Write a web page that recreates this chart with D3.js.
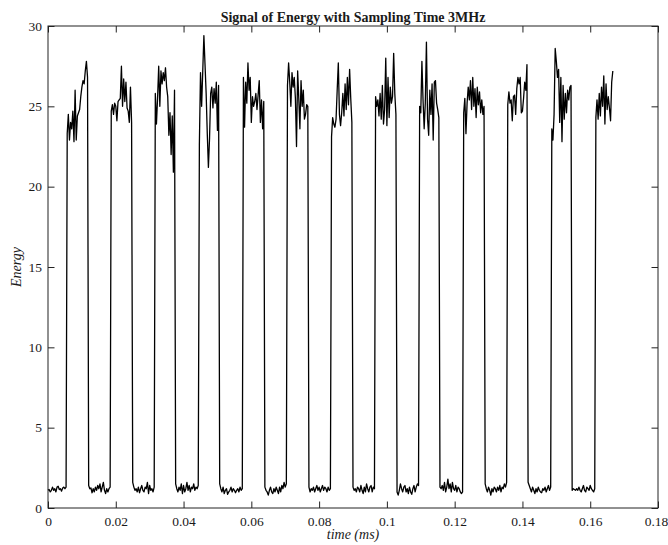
<!DOCTYPE html>
<html>
<head>
<meta charset="utf-8">
<script src="https://cdn.jsdelivr.net/npm/d3@7"></script>
<style>
  body { margin: 0; background: #fff; }
  text { font-family: "Liberation Serif", "Times New Roman", serif; fill: #1a1a1a; }
</style>
</head>
<body>
<svg></svg>
<script>
const width = 668;
const height = 545;
const margin = { top: 26, right: 10, bottom: 37, left: 48 };

const sampleRateMHz = 3; // samples per microsecond -> 3000 per ms
const xTicks = [0, 0.02, 0.04, 0.06, 0.08, 0.1, 0.12, 0.14, 0.16, 0.18];
const yTicks = [0, 5, 10, 15, 20, 25, 30];

// low level stretches between pulses
const lowLevels = [
    [1.1, 1.15, 1.0, 1.1, 1.3, 1.1, 1.2, 1.0, 1.3, 1.35, 1.15, 1.2, 1.05, 1.25, 1.3, 1.2, 1.3],
    [1.4, 1.2, 1.25, 0.95, 1.2, 1.0, 1.3, 1.1, 1.4, 1.2, 1.5, 1.0, 1.3, 1.6, 1.1, 0.9, 1.2, 1.0, 1.2, 1.3],
    [1.6, 1.3, 1.1, 1.2, 1.0, 1.3, 0.95, 1.2, 1.4, 1.1, 1.0, 1.3, 1.2, 1.6, 0.9, 1.4, 1.1, 1.2, 1.0, 1.3],
    [1.5, 1.2, 1.0, 1.3, 1.1, 1.5, 0.9, 1.4, 1.0, 1.2, 1.6, 1.1, 1.4, 1.0, 1.3, 1.2, 1.5, 1.1, 1.3, 1.2, 1.4],
    [1.5, 1.2, 1.0, 1.3, 0.9, 1.1, 1.2, 0.85, 1.0, 1.1, 1.3, 1.0, 1.2, 1.1, 0.95, 1.1, 1.2, 1.0, 1.3, 1.1, 1.2],
    [1.3, 1.1, 1.0, 0.8, 1.1, 1.3, 1.0, 0.9, 1.2, 1.0, 1.3, 1.1, 0.9, 1.3, 1.0, 1.4, 1.2, 1.6, 1.3, 1.5],
    [1.3, 1.0, 1.2, 1.1, 1.3, 1.0, 1.2, 1.4, 1.1, 1.3, 1.0, 1.2, 1.4, 1.1, 1.3, 1.2, 1.0, 1.3, 1.1, 1.2],
    [1.3, 1.1, 1.2, 1.0, 1.3, 1.2, 1.0, 1.4, 1.1, 0.9, 1.3, 1.0, 1.5, 1.2, 1.0, 1.3, 1.4, 1.0, 1.3, 1.2],
    [1.0, 0.8, 1.1, 1.5, 1.2, 1.0, 1.3, 1.4, 1.0, 1.2, 0.9, 1.3, 1.0, 0.85, 1.2, 1.4, 1.0, 1.3, 1.5, 1.4],
    [1.3, 1.2, 1.4, 1.1, 1.6, 1.0, 1.3, 1.8, 1.2, 1.5, 1.0, 1.6, 1.2, 1.1, 1.4, 1.0, 1.3, 1.2, 1.0, 0.9, 1.0],
    [1.5, 1.2, 1.0, 1.3, 1.1, 0.8, 1.2, 1.0, 1.3, 1.2, 1.0, 1.3, 1.1, 1.4, 1.0, 1.3, 1.2, 1.5, 1.3, 1.6],
    [1.6, 1.4, 1.2, 1.0, 1.3, 1.1, 0.9, 1.2, 1.0, 1.3, 1.1, 1.0, 0.95, 1.2, 1.1, 1.3, 1.0, 1.2, 1.4, 1.1, 1.3],
    [1.1, 1.2, 1.15, 1.1, 1.2, 1.1, 1.3, 1.1, 1.0, 1.2, 1.4, 1.1, 1.0, 1.3, 1.2, 1.1, 1.4, 1.2, 1.1, 1.0, 1.2]
];

// high level of each pulse
const pulseLevels = [
    [23.3, 24.5, 22.9, 24.0, 23.6, 24.7, 22.8, 26.0, 22.9, 24.4, 24.6, 24.8, 25.6, 26.2, 26.6, 26.4, 27.2, 27.8, 26.8],
    [24.7, 25.1, 24.5, 25.2, 25.0, 24.1, 25.3, 25.4, 25.5, 27.5, 25.0, 26.7, 25.3, 26.5, 24.9, 24.7, 24.0, 26.2, 24.0],
    [25.8, 23.9, 25.5, 27.5, 25.0, 27.2, 26.4, 27.1, 26.6, 27.4, 26.2, 25.6, 23.2, 24.6, 22.0, 24.4, 20.9, 26.0],
    [22.6, 27.1, 25.0, 27.2, 29.4, 27.6, 25.8, 23.3, 21.2, 23.0, 25.8, 26.2, 24.9, 26.1, 25.2, 26.5, 23.5, 26.3],
    [26.8, 23.7, 26.5, 25.2, 27.7, 26.0, 26.8, 24.0, 25.6, 25.0, 25.3, 25.8, 24.8, 25.7, 26.6, 24.0, 25.4, 23.6, 25.3],
    [26.3, 27.7, 26.5, 25.0, 27.1, 26.2, 26.8, 25.5, 22.5, 27.2, 25.5, 23.6, 26.6, 25.0, 26.0, 24.2, 24.5, 25.1, 25.0],
    [23.1, 24.3, 23.9, 23.7, 24.2, 26.0, 27.7, 24.5, 23.8, 24.6, 25.8, 24.4, 26.4, 24.8, 26.8, 25.1, 27.3, 25.5, 24.0],
    [25.6, 25.0, 25.4, 24.4, 25.8, 24.2, 26.3, 23.9, 24.8, 28.0, 23.8, 26.8, 24.3, 26.2, 25.2, 25.6, 28.3, 25.8, 24.5],
    [25.0, 24.6, 27.8, 25.4, 23.6, 25.2, 29.0, 24.2, 23.2, 26.0, 24.5, 26.4, 22.9, 26.5, 26.6, 25.2, 24.8, 24.3],
    [24.6, 25.5, 23.3, 25.2, 26.2, 25.4, 26.6, 24.8, 26.8, 25.0, 26.1, 24.3, 26.2, 25.1, 25.9, 24.6, 25.4, 24.5, 25.0],
    [25.1, 25.9, 25.2, 25.4, 24.1, 25.6, 25.7, 24.5, 26.1, 26.8, 26.4, 26.8, 24.6, 24.7, 25.5, 26.5, 26.0, 27.6],
    [23.6, 22.9, 24.5, 28.6, 27.8, 26.8, 27.3, 24.0, 26.8, 22.8, 26.3, 24.2, 25.8, 24.6, 26.0, 25.4, 26.2, 26.3],
    [24.3, 25.4, 24.2, 25.8, 24.4, 26.2, 25.0, 26.9, 23.9, 26.4, 24.8, 25.6, 24.9, 24.1, 26.5, 27.2]
];

// stitch gaps and pulses together: gap, pulse, gap, pulse ...
const energy = [];
lowLevels.forEach((low, i) => {
    energy.push(...low, ...pulseLevels[i]);
});
const signal = energy.map((v, i) => ({ t: i / (sampleRateMHz * 1000), e: v }));

const svg = d3.select("svg")
    .attr("width", width)
    .attr("height", height);

const x = d3.scaleLinear()
    .domain([0, 0.18])
    .range([margin.left, width - margin.right]);

const y = d3.scaleLinear()
    .domain([0, 30])
    .range([height - margin.bottom, margin.top]);

const fmt = d3.format("~g");

svg.append("g")
    .attr("class", "x-axis")
    .attr("transform", `translate(0, ${height - margin.bottom})`)
    .call(d3.axisBottom(x).tickValues(xTicks).tickFormat(fmt).tickSizeInner(-6.5).tickSizeOuter(0).tickPadding(8))
    .call(g => g.select(".domain").remove());

svg.append("g")
    .attr("transform", `translate(0, ${margin.top})`)
    .call(d3.axisTop(x).tickValues(xTicks).tickFormat("").tickSizeInner(-6.5).tickSizeOuter(0))
    .call(g => g.select(".domain").remove());

svg.append("g")
    .attr("transform", `translate(${margin.left}, 0)`)
    .call(d3.axisLeft(y).tickValues(yTicks).tickFormat(fmt).tickSizeInner(-6.5).tickSizeOuter(0).tickPadding(6))
    .call(g => g.select(".domain").remove());

svg.append("g")
    .attr("transform", `translate(${width - margin.right}, 0)`)
    .call(d3.axisRight(y).tickValues(yTicks).tickFormat("").tickSizeInner(-6.5).tickSizeOuter(0))
    .call(g => g.select(".domain").remove());

svg.selectAll(".tick line").attr("stroke", "#222");
svg.selectAll(".tick text")
    .style("font-family", '"Liberation Serif", serif')
    .style("font-size", "13.5px")
    .attr("fill", "#1a1a1a");

// last x label sits right at the window edge
svg.select(".x-axis").selectAll(".tick text")
    .filter(d => d === 0.18)
    .attr("dx", "-2");

// axes box
svg.append("rect")
    .attr("x", x(0))
    .attr("y", y(30))
    .attr("width", x(0.18) - x(0))
    .attr("height", y(0) - y(30))
    .attr("fill", "none")
    .attr("stroke", "#222")
    .attr("stroke-width", 1);

const line = d3.line()
    .x(d => x(d.t))
    .y(d => y(d.e));

svg.append("path")
    .datum(signal)
    .attr("d", line)
    .attr("fill", "none")
    .attr("stroke", "#000")
    .attr("stroke-width", 1.3)
    .attr("stroke-linejoin", "round");

svg.append("text")
    .attr("x", (x(0) + x(0.18)) / 2)
    .attr("y", 22)
    .attr("text-anchor", "middle")
    .style("font-size", "14px")
    .style("font-weight", "bold")
    .text("Signal of Energy with Sampling Time 3MHz");

svg.append("text")
    .attr("x", (x(0) + x(0.18)) / 2)
    .attr("y", 539)
    .attr("text-anchor", "middle")
    .style("font-size", "14px")
    .style("font-style", "italic")
    .text("time (ms)");

svg.append("text")
    .attr("transform", `translate(21, ${(y(0) + y(30)) / 2}) rotate(-90)`)
    .attr("text-anchor", "middle")
    .style("font-size", "14px")
    .style("font-style", "italic")
    .text("Energy");
</script>
</body>
</html>
